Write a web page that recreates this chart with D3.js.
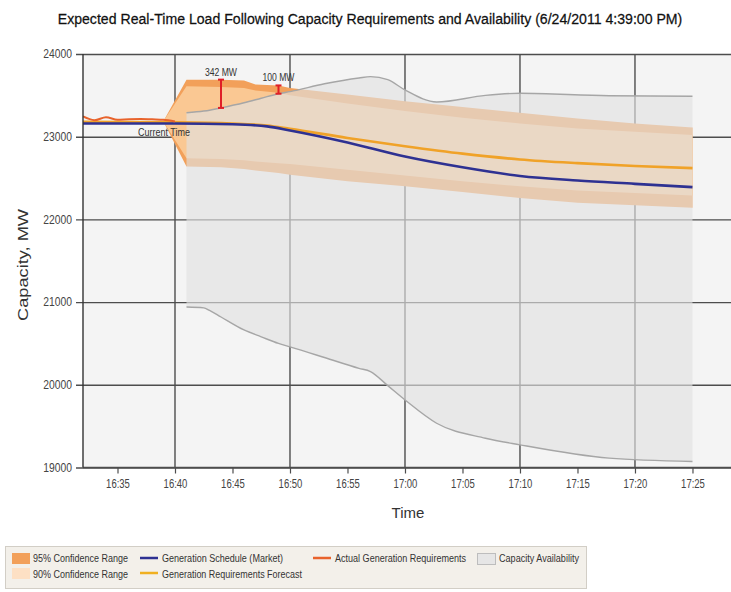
<!DOCTYPE html>
<html>
<head>
<meta charset="utf-8">
<script src="https://cdn.jsdelivr.net/npm/d3@7"></script>
<style>
  html, body { margin: 0; padding: 0; background: #ffffff; }
  svg { display: block; }
  .narrow { font-family: "Liberation Sans Narrow", "Arial Narrow", "Liberation Sans", Arial, sans-serif; }
  .wide { font-family: "Liberation Sans", Arial, sans-serif; }
</style>
</head>
<body>
<svg id="chart" width="731" height="592"></svg>
<script>
// ---- data -------------------------------------------------------------
const chartTitle = "Expected Real-Time Load Following Capacity Requirements and Availability (6/24/2011 4:39:00 PM)";
const xTickLabels = ["16:35","16:40","16:45","16:50","16:55","17:00","17:05","17:10","17:15","17:20","17:25"];
const xGridLabels = ["16:40","16:50","17:00","17:10","17:20"];
const yTickValues = [19000, 20000, 21000, 22000, 23000, 24000];

// confidence bands around the requirements forecast
const bandTimes = ["16:39","16:41","16:44","16:46","16:47","16:49","16:50","16:55","17:00","17:05","17:10","17:15","17:20","17:25"];
const band95Upper = [23190, 23690, 23690, 23680, 23630, 23620, 23590, 23510, 23430, 23360, 23290, 23220, 23160, 23110];
const band90Upper = [23190, 23610, 23600, 23590, 23560, 23530, 23500, 23400, 23310, 23230, 23160, 23100, 23060, 23020];
const band90Lower = [23180, 22740, 22730, 22715, 22700, 22680, 22670, 22600, 22530, 22460, 22400, 22350, 22320, 22290];
const band95Lower = [23180, 22640, 22630, 22610, 22590, 22560, 22540, 22460, 22400, 22330, 22260, 22200, 22170, 22140];

// capacity availability envelope
const capTimes = ["16:41","16:42:30","16:43","16:44","16:46","16:47:30","16:49","16:50","16:53","16:56","16:57","16:58:30","17:00","17:02:45","17:07","17:10","17:17:45","17:25"];
const capHigh  = [23290, 23310, 23320, 23348, 23410, 23465, 23520, 23545, 23640, 23710, 23726, 23690, 23565, 23420, 23500, 23525, 23495, 23490];
const capLow   = [20940, 20930, 20900, 20820, 20663, 20580, 20500, 20459, 20330, 20199, 20160, 19990, 19817, 19535, 19354, 19274, 19113, 19073];

// generation schedule (market)
const schedTimes  = ["16:32","16:40","16:45","16:48","16:50","16:55","17:00","17:05","17:10","17:15","17:20","17:25"];
const schedValues = [23160, 23160, 23150, 23125, 23075, 22930, 22760, 22630, 22525, 22470, 22430, 22390];

// generation requirements forecast
const fcstTimes  = ["16:32","16:40","16:45","16:48","16:50","16:55","17:00","17:05","17:10","17:15","17:20","17:25"];
const fcstValues = [23180, 23175, 23160, 23135, 23095, 22985, 22885, 22795, 22725, 22680, 22645, 22620];

// actual generation requirements
const actualTimes  = ["16:32","16:33","16:34","16:35","16:36","16:37","16:38","16:39","16:40"];
const actualValues = [23245, 23200, 23235, 23205, 23212, 23215, 23210, 23205, 23185];

// margin call-outs: time and label
const calloutTimes  = ["16:44","16:49"];
const calloutLabels = ["342 MW","100 MW"];
const currentTimeAt = "16:40";

const legendRow1 = ["95% Confidence Range","Generation Schedule (Market)","Actual Generation Requirements","Capacity Availability"];
const legendRow2 = ["90% Confidence Range","Generation Requirements Forecast"];

// ---- helpers ----------------------------------------------------------
const parseT = s => { const p = s.split(":").map(Number); return new Date(2011, 5, 24, p[0], p[1], p[2] || 0); };
const zip = (ts, vs) => ts.map((t, i) => ({ t: parseT(t), v: vs[i] }));

const svg = d3.select("#chart");
const plot = { left: 83, right: 731, top: 54, bottom: 467.5 };

const x = d3.scaleTime()
  .domain([parseT("16:32"), parseT("17:28:21")])
  .range([plot.left, plot.right]);
const y = d3.scaleLinear().domain([19000, 24000]).range([plot.bottom, plot.top]);

// squeeze text to a target width when no condensed face is installed
function fit(sel, target) {
  sel.each(function () {
    const len = this.getComputedTextLength();
    if (Math.abs(len - target) / target > 0.03) {
      d3.select(this).attr("textLength", target).attr("lengthAdjust", "spacingAndGlyphs");
    }
  });
}
function condense(sel, ratio) {
  sel.each(function () {
    const len = this.getComputedTextLength();
    d3.select(this).attr("textLength", len * ratio).attr("lengthAdjust", "spacingAndGlyphs");
  });
}

// ---- title (scaled horizontally to a condensed look) ----------------------
const titleG = svg.append("g");
const title = titleG.append("text").attr("class", "narrow")
  .attr("x", 0).attr("y", 0).attr("text-anchor", "middle")
  .attr("font-size", 15.5).attr("fill", "#111").attr("stroke", "#111").attr("stroke-width", 0.25)
  .text(chartTitle);
{
  const natural = title.node().getComputedTextLength();
  const k = Math.min(1, 625 / natural);
  titleG.attr("transform", `translate(370,24) scale(${k},1)`);
}

// ---- plot background and grid ------------------------------------------
svg.append("rect").attr("x", plot.left).attr("y", plot.top)
  .attr("width", plot.right - plot.left).attr("height", plot.bottom - plot.top)
  .attr("fill", "#f4f4f4");

const gridColor = "#4d4d4d";
const yAxis = d3.axisLeft(y).tickValues(yTickValues).tickFormat(d3.format("d"))
  .tickSize(-(plot.right - plot.left)).tickPadding(11);
const gy = svg.append("g").attr("transform", `translate(${plot.left},0)`).call(yAxis);
gy.select(".domain").remove();
gy.selectAll(".tick line").attr("x1", -7).attr("stroke", gridColor).attr("stroke-width", 1.4);
const yLabels = gy.selectAll(".tick text").attr("class", "narrow").attr("font-family", null)
  .attr("font-size", 12).attr("fill", "#444").attr("x", -11);
condense(yLabels, 0.86);

svg.append("g").selectAll("line").data(xGridLabels.map(parseT)).join("line")
  .attr("x1", d => x(d)).attr("x2", d => x(d))
  .attr("y1", plot.top).attr("y2", plot.bottom)
  .attr("stroke", gridColor).attr("stroke-width", 1.4);

// ---- confidence bands --------------------------------------------------
const band95 = bandTimes.map((t, i) => ({ t: parseT(t), hi: band95Upper[i], lo: band95Lower[i] }));
const band90 = bandTimes.map((t, i) => ({ t: parseT(t), hi: band90Upper[i], lo: band90Lower[i] }));
const bandArea = d3.area().x(d => x(d.t)).y0(d => y(d.lo)).y1(d => y(d.hi)).curve(d3.curveLinear);

svg.append("path").datum(band95).attr("d", bandArea).attr("fill", "#f2a05a");
svg.append("path").datum(band90).attr("d", bandArea).attr("fill", "#fac893");

// ---- capacity availability (translucent overlay) -----------------------
const cap = capTimes.map((t, i) => ({ t: parseT(t), hi: capHigh[i], lo: capLow[i] }));
svg.append("path").datum(cap)
  .attr("d", d3.area().x(d => x(d.t)).y0(d => y(d.lo)).y1(d => y(d.hi)).curve(d3.curveMonotoneX))
  .attr("fill", "rgb(226,226,226)").attr("fill-opacity", 0.64);
const capLine = key => d3.line().x(d => x(d.t)).y(d => y(d[key])).curve(d3.curveMonotoneX);
svg.append("path").datum(cap).attr("d", capLine("hi")).attr("fill", "none").attr("stroke", "#a6a6a6").attr("stroke-width", 1.4);
svg.append("path").datum(cap).attr("d", capLine("lo")).attr("fill", "none").attr("stroke", "#a6a6a6").attr("stroke-width", 1.4);

// ---- series lines --------------------------------------------------------
const line = d3.line().x(d => x(d.t)).y(d => y(d.v)).curve(d3.curveMonotoneX);
svg.append("path").datum(zip(fcstTimes, fcstValues)).attr("d", line)
  .attr("fill", "none").attr("stroke", "#f0a228").attr("stroke-width", 2.6);
svg.append("path").datum(zip(schedTimes, schedValues)).attr("d", line)
  .attr("fill", "none").attr("stroke", "#2e3192").attr("stroke-width", 2.6);
svg.append("path").datum(zip(actualTimes, actualValues)).attr("d", line)
  .attr("fill", "none").attr("stroke", "#e8632c").attr("stroke-width", 2);

// ---- axes lines ----------------------------------------------------------
const xAxis = d3.axisBottom(x).tickValues(xTickLabels.map(parseT))
  .tickFormat(d3.timeFormat("%H:%M")).tickSize(6).tickPadding(6);
const gx = svg.append("g").attr("transform", `translate(0,${plot.bottom})`).call(xAxis);
gx.select(".domain").attr("stroke", gridColor).attr("stroke-width", 1.4)
  .attr("d", `M${plot.left},0H${plot.right}`);
gx.selectAll(".tick line").attr("stroke", gridColor).attr("stroke-width", 1.2);
const xLabels = gx.selectAll(".tick text").attr("class", "narrow").attr("font-family", null)
  .attr("font-size", 12.5).attr("fill", "#444");
condense(xLabels, 0.76);

svg.append("line").attr("x1", plot.left).attr("x2", plot.left)
  .attr("y1", plot.top).attr("y2", plot.bottom).attr("stroke", "#333").attr("stroke-width", 1.4);

// ---- call-outs -----------------------------------------------------------
const hiAt = (arr, t) => {
  const ms = parseT(t).getTime();
  const i = d3.bisector(d => d.t.getTime()).left(arr, ms);
  if (arr[i] && arr[i].t.getTime() === ms) return arr[i].hi;
  const a = arr[i - 1], b = arr[i];
  return a.hi + (b.hi - a.hi) * (ms - a.t) / (b.t - a.t);
};
calloutTimes.forEach((t, i) => {
  const cx = x(parseT(t));
  const y1 = y(hiAt(band95, t)), y2 = y(hiAt(cap, t));
  const g = svg.append("g").attr("stroke", "#e01f26").attr("stroke-width", 2);
  g.append("line").attr("x1", cx).attr("x2", cx).attr("y1", y1).attr("y2", y2);
  g.append("line").attr("x1", cx - 3).attr("x2", cx + 3).attr("y1", y1).attr("y2", y1);
  g.append("line").attr("x1", cx - 3).attr("x2", cx + 3).attr("y1", y2).attr("y2", y2);
  const lbl = svg.append("text").attr("class", "narrow").attr("x", cx).attr("y", y1 - 4)
    .attr("text-anchor", "middle").attr("font-size", 11).attr("fill", "#333")
    .text(calloutLabels[i]);
  fit(lbl, 32);
});

const ct = svg.append("text").attr("class", "narrow")
  .attr("x", x(parseT(currentTimeAt)) - 11).attr("y", 135.5)
  .attr("text-anchor", "middle").attr("font-size", 11).attr("fill", "#333").text("Current Time");
fit(ct, 52);

// ---- axis titles -----------------------------------------------------------
const yt = svg.append("text").attr("class", "wide")
  .attr("transform", "translate(28,265) rotate(-90)")
  .attr("text-anchor", "middle").attr("font-size", 15.5).attr("fill", "#333").text("Capacity, MW");
fit(yt, 112);
svg.append("text").attr("class", "wide")
  .attr("x", 408).attr("y", 518).attr("text-anchor", "middle")
  .attr("font-size", 15).attr("fill", "#333").text("Time");

// ---- legend ----------------------------------------------------------------
const lg = svg.append("g");
lg.append("rect").attr("x", 5.5).attr("y", 546.5).attr("width", 581).attr("height", 42)
  .attr("fill", "#f3f0ea").attr("stroke", "#d2cec6");

const swatch = (sx, sy, fill, stroke) =>
  lg.append("rect").attr("x", sx).attr("y", sy).attr("width", 18).attr("height", 11)
    .attr("fill", fill).attr("stroke", stroke || "none");
const legLine = (lx, ly, color) =>
  lg.append("line").attr("x1", lx).attr("x2", lx + 18).attr("y1", ly).attr("y2", ly)
    .attr("stroke", color).attr("stroke-width", 2.5);
const legText = (tx, ty, s, w) => {
  const t = lg.append("text").attr("class", "narrow").attr("x", tx).attr("y", ty)
    .attr("font-size", 11.5).attr("fill", "#333").text(s);
  fit(t, w);
  return t;
};

const r1 = 562, r2 = 578;
swatch(12, 553, "#f2a05a");
legText(33, r1, legendRow1[0], 95);
legLine(140, 558, "#2e3192");
legText(162, r1, legendRow1[1], 121);
legLine(313, 558, "#e8632c");
legText(335, r1, legendRow1[2], 131);
swatch(477.5, 553.5, "#e6e6e6", "#bdbdbd");
legText(499, r1, legendRow1[3], 80);

swatch(12, 568, "#fde0c4");
legText(33, r2, legendRow2[0], 95);
legLine(140, 573, "#f0b020");
legText(162, r2, legendRow2[1], 140);
</script>
</body>
</html>
